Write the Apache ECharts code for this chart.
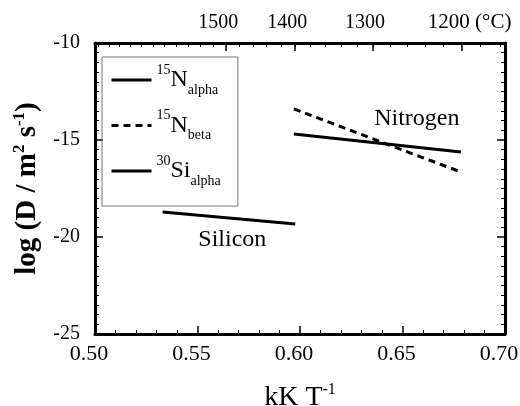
<!DOCTYPE html>
<html><head><meta charset="utf-8">
<script src="https://cdn.jsdelivr.net/npm/echarts@6/dist/echarts.min.js"></script>
<style>html,body{margin:0;padding:0;background:#fff}#c{width:520px;height:406px}</style>
</head><body><div id="c"></div>
<script>
// ---- data ----
const seriesNames = ['15N alpha', '15N beta', '30Si alpha'];
const n15AlphaX = [0.597, 0.6785];
const n15AlphaY = [-14.69, -15.62];
const n15BetaX = [0.597, 0.6785];
const n15BetaY = [-13.40, -16.65];
const si30AlphaX = [0.533, 0.5977];
const si30AlphaY = [-18.71, -19.33];
const celsiusTicks = [1500, 1400, 1300, 1200];
const xTicks = [0.50, 0.55, 0.60, 0.65, 0.70];
const yTicks = [-25, -20, -15, -10];
const annotations = [
  {name: 'Nitrogen', x: 0.657, y: -13.9},
  {name: 'Silicon', x: 0.567, y: -20.15}
];
// --------------
const toInvK = c => 1000 / (c + 273.15);
const celsiusMinor = [];
for (let c = 1160; c <= 1720; c += 20) celsiusMinor.push(toInvK(c));
const pairs = (xs, ys) => xs.map((x, i) => [x, ys[i]]);
const serif = 'Liberation Serif';
const legendRich = {
  sup: {fontSize: 14, fontFamily: serif, color: '#000', verticalAlign: 'top', lineHeight: 34},
  n: {fontSize: 24, fontFamily: serif, color: '#000', lineHeight: 34},
  sub: {fontSize: 14, fontFamily: serif, color: '#000', verticalAlign: 'bottom', lineHeight: 34}
};
const legendFmt = name => {
  const [iso, rest] = name.split(' ');
  const m = iso.match(/^(\d+)(\D+)$/);
  return '{sup|' + m[1] + '}{n|' + m[2] + '}{sub|' + rest + '}';
};
const chart = echarts.init(document.getElementById('c'), null, {renderer: 'canvas'});
const lineBase = {type: 'line', symbol: 'none', showSymbol: false, silent: true, animation: false};
chart.setOption({
  animation: false,
  backgroundColor: '#fff',
  grid: {left: 95, right: 15, top: 43, bottom: 72, containLabel: false, outerBoundsMode: 'none'},
  legend: {
    orient: 'vertical', left: 102, top: 57,
    data: seriesNames,
    itemWidth: 40, itemHeight: 14, itemGap: 11.5,
    padding: [6, 17, 18, 8],
    borderColor: '#777', borderWidth: 1,
    formatter: legendFmt,
    itemStyle: {opacity: 0},
    lineStyle: {width: 3},
    textStyle: {rich: legendRich, color: '#000'},
    selectedMode: false
  },
  xAxis: [
    {
      type: 'value', min: 0.5, max: 0.7, interval: 0.05, position: 'bottom',
      axisLine: {show: true, onZero: false, lineStyle: {color: '#000', width: 3}},
      axisTick: {show: true, inside: true, length: 8, lineStyle: {color: '#000', width: 1.5}},
      minorTick: {show: true, splitNumber: 5, length: 4, lineStyle: {color: '#000', width: 1}},
      axisLabel: {color: '#000', fontFamily: serif, fontSize: 22, margin: 9, padding: [0, 12, 0, 0],
        formatter: v => v.toFixed(2), customValues: xTicks},
      splitLine: {show: false},
      name: 'kK T{sup|-1}', nameLocation: 'middle', nameGap: 48,
      nameTextStyle: {color: '#000', fontFamily: serif, fontSize: 28,
        rich: {sup: {fontSize: 16, fontFamily: serif, color: '#000', verticalAlign: 'top', lineHeight: 32}}}
    },
    {
      type: 'value', min: 0.5, max: 0.7, position: 'top',
      axisLine: {show: true, onZero: false, lineStyle: {color: '#000', width: 3}},
      axisTick: {show: true, inside: true, length: 8, customValues: celsiusTicks.map(toInvK), lineStyle: {color: '#000', width: 1.5}},
      axisLabel: {show: true, color: '#000', fontFamily: serif, fontSize: 20, margin: 10, padding: [0, 16, 0, 0],
        customValues: celsiusTicks.map(toInvK),
        formatter: v => {
          const c = Math.round(1000 / v - 273.15);
          return c === 1200 ? '{last|1200 (°C)}' : String(c);
        },
        rich: {last: {fontSize: 21, fontFamily: serif, color: '#000', padding: [0, 0, 0, 32]}}},
      splitLine: {show: false}
    },
    {
      type: 'value', min: 0.5, max: 0.7, position: 'top',
      axisLine: {show: false},
      axisTick: {show: true, inside: true, length: 4, customValues: celsiusMinor, lineStyle: {color: '#000', width: 1}},
      axisLabel: {show: false},
      splitLine: {show: false}
    }
  ],
  yAxis: [
    {
      type: 'value', min: -25, max: -10, interval: 5, position: 'left',
      axisLine: {show: true, onZero: false, lineStyle: {color: '#000', width: 3}},
      axisTick: {show: true, inside: true, length: 8, lineStyle: {color: '#000', width: 1.5}},
      minorTick: {show: true, splitNumber: 10, length: 4, lineStyle: {color: '#000', width: 1}},
      axisLabel: {color: '#000', fontFamily: serif, fontSize: 20, margin: 15, customValues: yTicks},
      splitLine: {show: false},
      name: 'log (D / m{sup|2} s{sup|-1})', nameLocation: 'middle', nameGap: 49, nameRotate: 90,
      nameTextStyle: {color: '#000', fontFamily: serif, fontSize: 29, fontWeight: 'bold',
        rich: {sup: {fontSize: 17, fontFamily: serif, fontWeight: 'bold', color: '#000', verticalAlign: 'top', lineHeight: 34}}}
    },
    {
      type: 'value', min: -25, max: -10, interval: 5, position: 'right',
      axisLine: {show: true, onZero: false, lineStyle: {color: '#000', width: 3}},
      axisTick: {show: true, inside: true, length: 8, lineStyle: {color: '#000', width: 1.5}},
      minorTick: {show: true, splitNumber: 10, length: 4, lineStyle: {color: '#000', width: 1}},
      axisLabel: {show: false},
      splitLine: {show: false}
    }
  ],
  series: [
    Object.assign({}, lineBase, {name: seriesNames[0], data: pairs(n15AlphaX, n15AlphaY),
      lineStyle: {color: '#000', width: 3, type: 'solid'}, itemStyle: {color: '#000'}}),
    Object.assign({}, lineBase, {name: seriesNames[1], data: pairs(n15BetaX, n15BetaY),
      lineStyle: {color: '#000', width: 3, type: [7, 5]}, itemStyle: {color: '#000'}}),
    Object.assign({}, lineBase, {name: seriesNames[2], data: pairs(si30AlphaX, si30AlphaY),
      lineStyle: {color: '#000', width: 3, type: 'solid'}, itemStyle: {color: '#000'}}),
    {
      type: 'scatter', symbolSize: 0, silent: true,
      itemStyle: {opacity: 1, color: '#000'},
      data: annotations.map(a => ({value: [a.x, a.y], name: a.name})),
      label: {show: true, position: 'inside', formatter: p => p.name, opacity: 1,
        textBorderWidth: 0, color: '#000', fontFamily: serif, fontSize: 24}
    }
  ]
});
</script></body></html>
